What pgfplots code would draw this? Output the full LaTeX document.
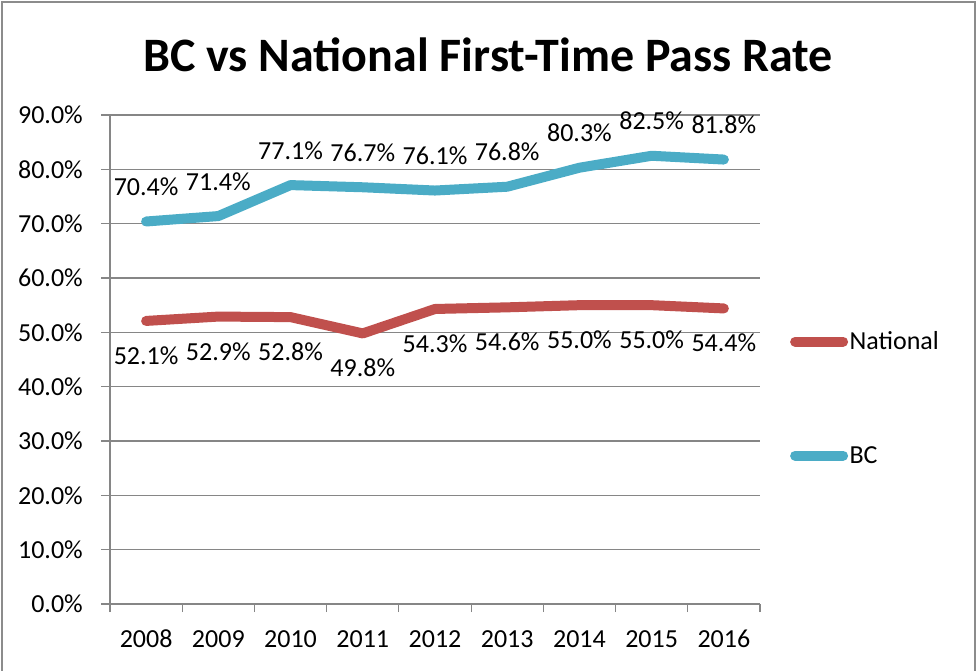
\documentclass[border=0pt]{standalone}
\usepackage{pgfplots}
\pgfplotsset{compat=1.18}
\usepackage{fontspec}
\setmainfont{Carlito}
\newfontfamily\titlefont{Carlito}
\definecolor{bcblue}{HTML}{4BACC6}
\definecolor{natred}{HTML}{C0504D}
\definecolor{axgray}{HTML}{868686}
\definecolor{framegray}{HTML}{8C8C8C}
\newcommand{\lblfont}{\fontsize{26}{30}\selectfont}
\begin{document}
\begin{tikzpicture}[x=1pt,y=1pt]
\useasboundingbox (0,0) rectangle (977,670);
\draw[framegray, line width=2pt] (2,-2) -- (2,668) -- (975,668) -- (975,-2);
\node[font=\titlefont\bfseries\fontsize{48}{54}\selectfont, anchor=center] at (488,615) {BC vs National First-Time Pass Rate};
\begin{axis}[
  at={(110pt,66pt)}, anchor=south west,
  scale only axis, width=650pt, height=489pt,
  xmin=-0.5, xmax=8.5, ymin=0, ymax=90,
  axis lines*=left,
  axis line style={axgray, line width=1.2pt},
  clip=false,
  xtick={0,...,8},
  xticklabels={2008,2009,2010,2011,2012,2013,2014,2015,2016},
  major x tick style={draw=none},
  minor xtick={-0.5,0.5,...,8.5},
  minor x tick style={axgray, line width=1.2pt},
  ytick={0,10,...,90},
  ymajorgrids,
  major grid style={axgray, line width=1.2pt},
  major y tick style={axgray, line width=1.2pt},
  tick align=outside,
  major tick length=9pt, minor tick length=8pt,
  yticklabel={\pgfmathprintnumber[fixed,fixed zerofill,precision=1,assume math mode=true]{\tick}\%},
  yticklabel style={font=\lblfont, inner sep=0pt, anchor=east, xshift=-18pt},
  xticklabel style={font=\lblfont, inner sep=0pt, anchor=north, yshift=-17pt},
  legend style={draw=none, fill=none, font=\lblfont, at={(1.046,0.56)}, anchor=north west,
    row sep=92pt, inner sep=0pt, nodes={inner sep=1.5pt}},
  legend cell align=left,
  legend image code/.code={\draw[#1, line width=10pt, line cap=round] (5pt,0pt) -- (53pt,0pt);},
  nodes near coords={\pgfmathprintnumber[fixed,fixed zerofill,precision=1,assume math mode=true]{\pgfplotspointmeta}\%},
  every node near coord/.append style={font=\lblfont, inner sep=0pt, anchor=base, black},
]
\addplot[natred, line width=10pt, line cap=round, line join=round, every node near coord/.append style={yshift=-43.5pt}] coordinates {
(0,52.1) (1,52.9) (2,52.8) (3,49.8) (4,54.3) (5,54.6) (6,55.0) (7,55.0) (8,54.4)};
\addlegendentry{National}
\addplot[bcblue, line width=10pt, line cap=round, line join=round, every node near coord/.append style={yshift=26pt}] coordinates {
(0,70.4) (1,71.4) (2,77.1) (3,76.7) (4,76.1) (5,76.8) (6,80.3) (7,82.5) (8,81.8)};
\addlegendentry{BC}
\end{axis}
\end{tikzpicture}
\end{document}
